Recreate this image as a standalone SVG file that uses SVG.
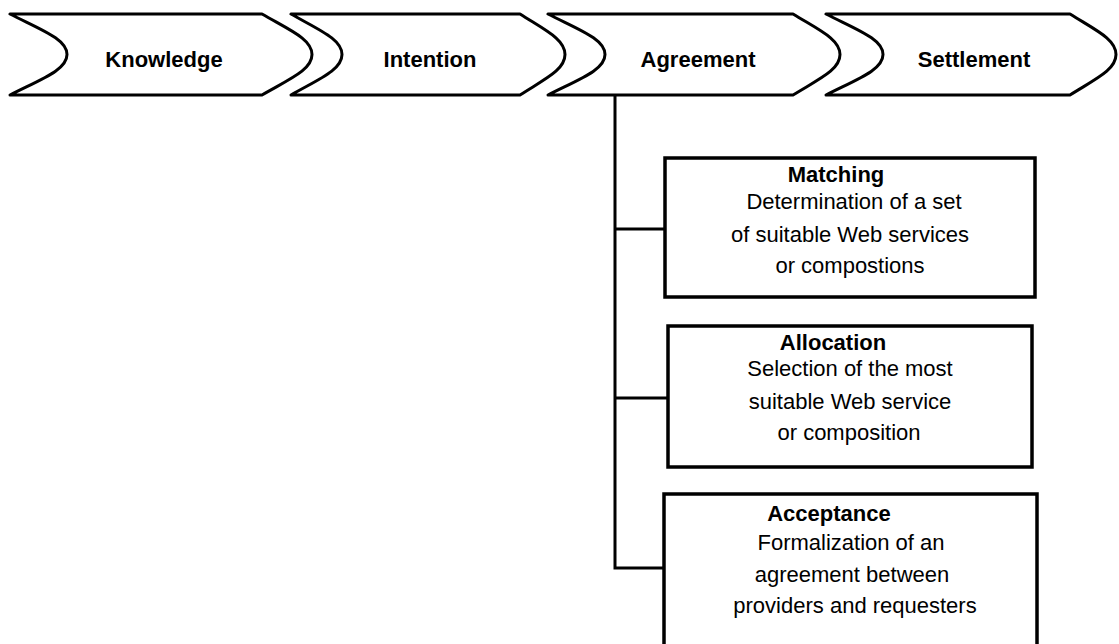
<svg xmlns="http://www.w3.org/2000/svg" width="1119" height="644" viewBox="0 0 1119 644">
  <style>
    .phase { fill: #fff; stroke: #000; stroke-width: 3; stroke-linejoin: round; }
    .box { fill: #fff; stroke: #000; stroke-width: 3.5; }
    .wire { fill: none; stroke: #000; stroke-width: 3; }
    .head { font-family: "Liberation Sans", Arial, sans-serif; font-size: 22px; font-weight: bold; fill: #000; text-anchor: middle; }
    .body { font-family: "Liberation Sans", Arial, sans-serif; font-size: 22px; fill: #000; text-anchor: middle; }
  </style>
  <rect width="1119" height="644" fill="#fff"/>

  <!-- process phases -->
  <g id="knowledge">
    <path class="phase" d="M10,14 H262 C289.5,30 312,39 312,54.5 C312,70 289.5,79 262,95 H10 C41.4,79 67,70 67,54.5 C67,39 41.4,30 10,14 Z"/>
    <text class="head" x="164" y="67">Knowledge</text>
  </g>
  <g id="intention">
    <path class="phase" d="M291,14 H520 C544.8,30 565,39 565,54.5 C565,70 544.8,79 520,95 H291 C319,79 342,70 342,54.5 C342,39 319,30 291,14 Z"/>
    <text class="head" x="430" y="67">Intention</text>
  </g>
  <g id="agreement">
    <path class="phase" d="M548,14 H793 C818.9,30 840,39 840,54.5 C840,70 818.9,79 793,95 H548 C579.4,79 605,70 605,54.5 C605,39 579.4,30 548,14 Z"/>
    <text class="head" x="698" y="67">Agreement</text>
  </g>
  <g id="settlement">
    <path class="phase" d="M826,14 H1070 C1095.3,30 1116,39 1116,54.5 C1116,70 1095.3,79 1070,95 H826 C857.4,79 883,70 883,54.5 C883,39 857.4,30 826,14 Z"/>
    <text class="head" x="974" y="67">Settlement</text>
  </g>

  <!-- tree from the Agreement phase to its steps -->
  <g id="connectors">
    <path class="wire" d="M615,95 V568 H664"/>
    <path class="wire" d="M615,229 H666"/>
    <path class="wire" d="M615,398 H669"/>
  </g>

  <g id="matching">
    <rect class="box" x="665" y="158" width="370" height="139"/>
    <text class="head" x="836" y="182">Matching</text>
    <text class="body" x="854" y="209">Determination of a set</text>
    <text class="body" x="850" y="242">of suitable Web services</text>
    <text class="body" x="850" y="273">or compostions</text>
  </g>
  <g id="allocation">
    <rect class="box" x="668" y="326" width="364" height="141"/>
    <text class="head" x="833" y="350">Allocation</text>
    <text class="body" x="850" y="376">Selection of the most</text>
    <text class="body" x="850" y="409">suitable Web service</text>
    <text class="body" x="849" y="440">or composition</text>
  </g>
  <g id="acceptance">
    <rect class="box" x="664" y="494" width="373" height="160"/>
    <text class="head" x="829" y="521">Acceptance</text>
    <text class="body" x="851" y="550">Formalization of an</text>
    <text class="body" x="852" y="582">agreement between</text>
    <text class="body" x="855" y="613">providers and requesters</text>
  </g>
</svg>
